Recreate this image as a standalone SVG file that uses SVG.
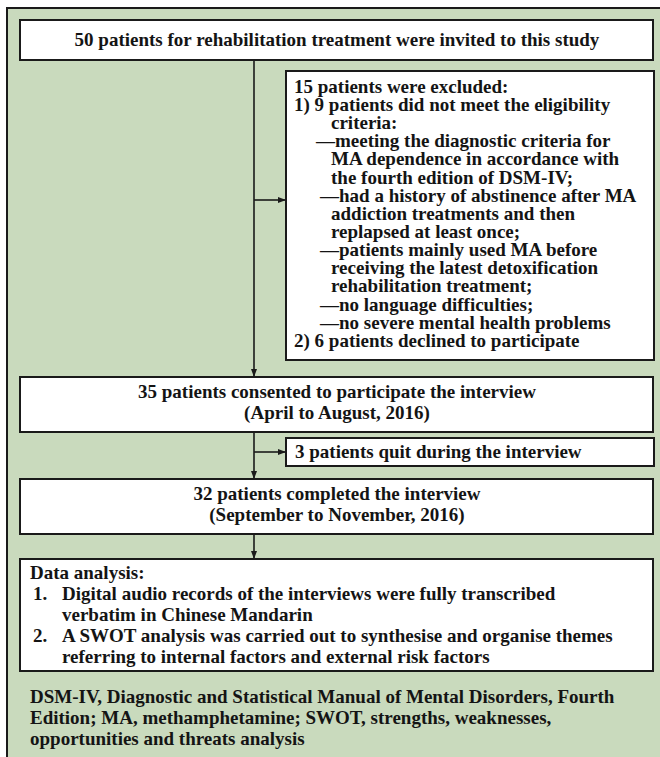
<svg xmlns="http://www.w3.org/2000/svg" width="660" height="757" viewBox="0 0 660 757">
<defs>
<style>
.bg{fill:#c9dabd;stroke:#1a1a1a;stroke-width:2}
.box{fill:#ffffff;stroke:#1a1a1a;stroke-width:2}
text{font-family:"Liberation Serif","Times New Roman",serif;font-weight:bold;font-size:19px;fill:#141414}
.c{text-anchor:middle}
.ln{stroke:#1a1a1a;stroke-width:1.6;fill:none}
</style>
<marker id="ah" viewBox="0 0 8 6" refX="8" refY="3" markerWidth="8" markerHeight="6" markerUnits="userSpaceOnUse" orient="auto">
<path d="M0,0 L8,3 L0,6 z" fill="#1a1a1a"/>
</marker>
</defs>
<rect class="bg" x="7" y="8" width="700" height="800"/>
<g id="connectors">
<path class="ln" d="M254,60 V377" marker-end="url(#ah)"/>
<path class="ln" d="M254,200 H286" marker-end="url(#ah)"/>
<path class="ln" d="M254,432 V479" marker-end="url(#ah)"/>
<path class="ln" d="M254,452 H286" marker-end="url(#ah)"/>
<path class="ln" d="M254,534 V559" marker-end="url(#ah)"/>
</g>
<g id="invited">
<rect class="box" x="20" y="20" width="633" height="40"/>
<text class="c" x="337" y="46" font-size="19.5">50 patients for rehabilitation treatment were invited to this study</text>
</g>
<g id="excluded">
<rect class="box" x="286" y="71" width="368" height="289"/>
<text x="294" y="93">15 patients were excluded:</text>
<text x="294" y="111">1) 9 patients did not meet the eligibility</text>
<text x="331" y="129">criteria:</text>
<text x="316" y="147">—meeting the diagnostic criteria for</text>
<text x="331" y="165">MA dependence in accordance with</text>
<text x="331" y="184">the fourth edition of DSM-IV;</text>
<text x="320" y="202">—had a history of abstinence after MA</text>
<text x="331" y="220">addiction treatments and then</text>
<text x="331" y="238">replapsed at least once;</text>
<text x="320" y="256">—patients mainly used MA before</text>
<text x="331" y="274">receiving the latest detoxification</text>
<text x="331" y="292">rehabilitation treatment;</text>
<text x="320" y="311">—no language difficulties;</text>
<text x="320" y="329">—no severe mental health problems</text>
<text x="294" y="347">2) 6 patients declined to participate</text>
</g>
<g id="consented">
<rect class="box" x="20" y="377" width="633" height="55"/>
<text class="c" x="337" y="398">35 patients consented to participate the interview</text>
<text class="c" x="337" y="419">(April to August, 2016)</text>
</g>
<g id="quit">
<rect class="box" x="286" y="438" width="368" height="28"/>
<text x="295" y="458">3 patients quit during the interview</text>
</g>
<g id="completed">
<rect class="box" x="20" y="479" width="633" height="55"/>
<text class="c" x="337" y="500">32 patients completed the interview</text>
<text class="c" x="337" y="521">(September to November, 2016)</text>
</g>
<g id="analysis">
<rect class="box" x="20" y="559" width="633" height="112"/>
<text x="30" y="579">Data analysis:</text>
<text x="33" y="600">1.</text>
<text x="62" y="600">Digital audio records of the interviews were fully transcribed</text>
<text x="62" y="621">verbatim in Chinese Mandarin</text>
<text x="33" y="642">2.</text>
<text x="62" y="642">A SWOT analysis was carried out to synthesise and organise themes</text>
<text x="62" y="663">referring to internal factors and external risk factors</text>
</g>
<g id="footnote">
<text x="30" y="703">DSM-IV, Diagnostic and Statistical Manual of Mental Disorders, Fourth</text>
<text x="30" y="724">Edition; MA, methamphetamine; SWOT, strengths, weaknesses,</text>
<text x="30" y="745">opportunities and threats analysis</text>
</g>
</svg>
